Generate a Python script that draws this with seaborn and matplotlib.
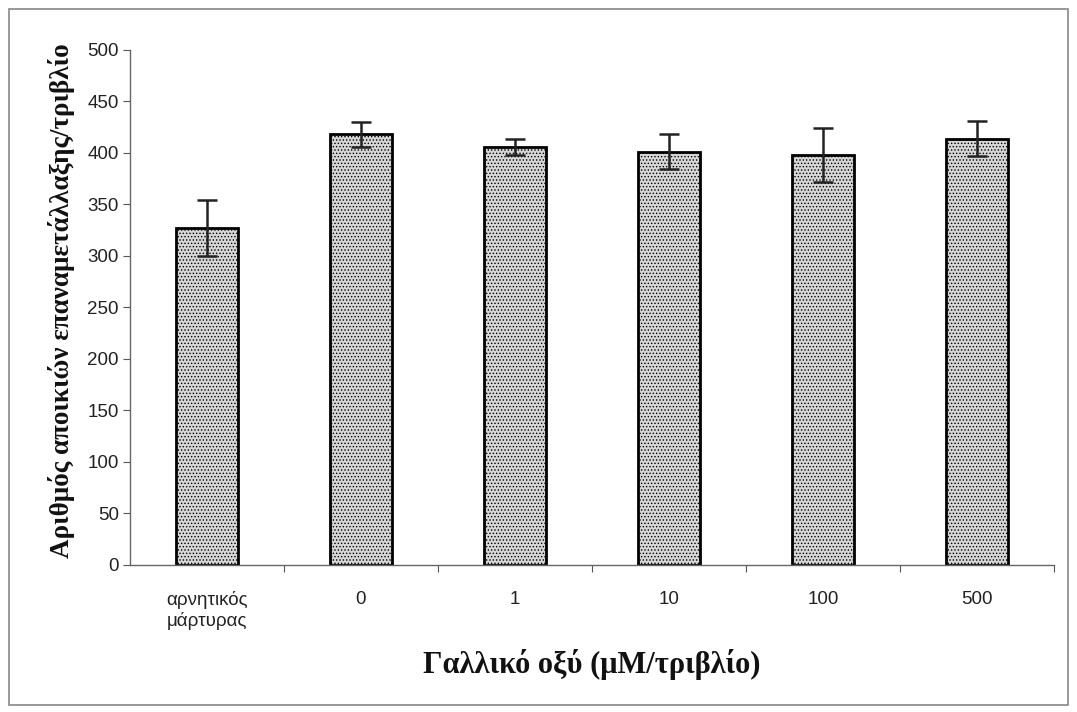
import matplotlib
matplotlib.use("Agg")
import matplotlib.pyplot as plt
import seaborn as sns
import pandas as pd
from matplotlib.patches import Rectangle

categories = ["αρνητικός\nμάρτυρας", "0", "1", "10", "100", "500"]
values = [327, 418, 406, 401, 398, 414]
errors = [27, 12, 8, 17, 26, 17]

sns.set_theme(style="white")
plt.rcParams['font.family'] = ['Liberation Sans', 'DejaVu Sans']
plt.rcParams['hatch.color'] = '#a6a6a6'
plt.rcParams['hatch.linewidth'] = 0.6

df = pd.DataFrame({"cat": categories, "val": values})

fig = plt.figure(figsize=(10.77, 7.12), dpi=100)
ax = fig.add_axes([0.1207, 0.2065, 0.8579, 0.7233])

sns.barplot(data=df, x="cat", y="val", ax=ax, color="#d6d6d6", width=0.4,
            edgecolor="black", linewidth=2, errorbar=None, saturation=1)
for p in ax.patches:
    p.set_hatch('.....')
    p.set_edgecolor('black')

ax.errorbar(range(len(values)), values, yerr=errors, fmt='none',
            ecolor='#222222', elinewidth=1.8, capsize=7, capthick=1.8)

ax.set_ylim(0, 500)
ax.set_xlim(-0.5, len(categories) - 0.5)
ax.set_yticks(range(0, 501, 50))
ax.tick_params(axis='y', which='major', direction='out', length=5, width=0.8,
               color='#555555', labelsize=13.5, labelcolor='#222222', left=True, pad=3)
ax.tick_params(axis='x', which='major', length=0, labelsize=13.5, labelcolor='#222222', pad=19)
ax.set_xticks([i + 0.5 for i in range(len(categories))], minor=True)
ax.tick_params(axis='x', which='minor', direction='out', length=5, width=0.8,
               color='#555555', bottom=True)

for s in ['top', 'right']:
    ax.spines[s].set_visible(False)
for s in ['left', 'bottom']:
    ax.spines[s].set_color('#666666')
    ax.spines[s].set_linewidth(1.0)

ax.set_xlabel("Γαλλικό οξύ (μM/τριβλίο)", family=['Liberation Serif', 'DejaVu Serif'],
              fontweight='bold', fontsize=22, color='#111111', va='center')
ax.xaxis.set_label_coords(0.5, -0.194)
ax.set_ylabel("Αριθμός αποικιών επαναμετάλλαξης/τριβλίο",
              family=['Liberation Serif', 'DejaVu Serif'],
              fontweight='bold', fontsize=19.5, color='#111111', va='center')
ax.yaxis.set_label_coords(-0.0736, 0.513)

fig.patches.append(Rectangle((0.008, 0.01), 0.984, 0.978, transform=fig.transFigure,
                             fill=False, edgecolor='#888888', linewidth=1.2))

fig.savefig("out.png", dpi=100)
